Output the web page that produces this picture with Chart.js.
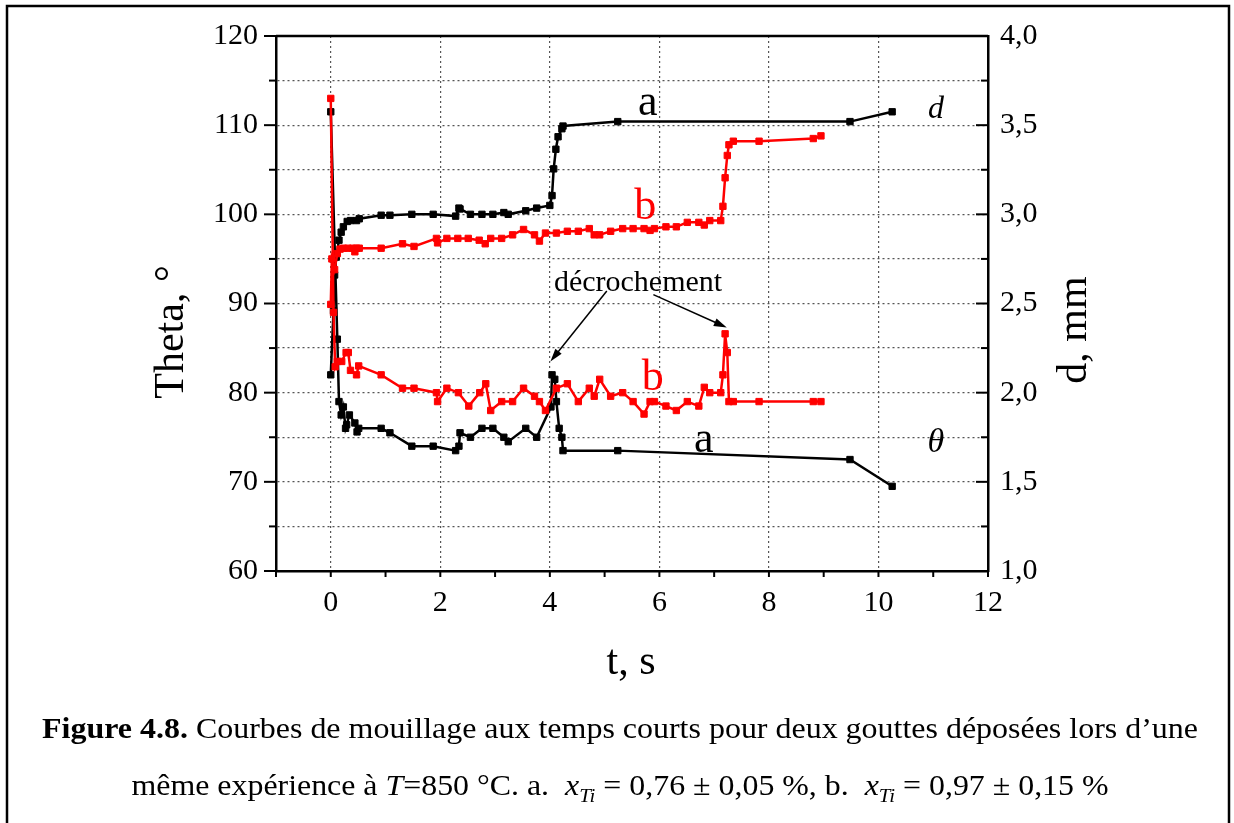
<!DOCTYPE html>
<html>
<head>
<meta charset="utf-8">
<script src="https://cdn.jsdelivr.net/npm/chart.js@4.4.1/dist/chart.umd.min.js"></script>
<style>
  html, body { margin: 0; padding: 0; background: #fff; }
  canvas { display: block; }
</style>
</head>
<body>
<canvas id="wetChart" width="1234" height="823"></canvas>
<script>
// values: time in s, theta in degrees, d in mm
const aThetaTime = [0, 0.12, 0.15, 0.19, 0.23, 0.27, 0.29, 0.34, 0.44, 0.48, 0.51, 0.92, 1.08, 1.48, 1.87, 2.28, 2.34, 2.36, 2.55, 2.76, 2.96, 3.16, 3.24, 3.56, 3.76, 4.02, 4.04, 4.09, 4.12, 4.17, 4.22, 4.24, 5.24, 9.48, 10.25];
const aTheta = [111.5, 86, 79, 77.5, 78.4, 76, 76.4, 77.5, 76.6, 75.6, 76, 76, 75.5, 74, 74, 73.5, 74, 75.5, 75, 76, 76, 75, 74.5, 76, 75, 78.4, 82, 81.5, 79, 76, 75, 73.5, 73.5, 72.5, 69.5];

const aDiamTime = [0, 0.05, 0.07, 0.10, 0.15, 0.19, 0.23, 0.30, 0.36, 0.47, 0.52, 0.92, 1.08, 1.48, 1.87, 2.28, 2.34, 2.36, 2.55, 2.76, 2.96, 3.16, 3.24, 3.56, 3.76, 4.00, 4.04, 4.07, 4.11, 4.15, 4.22, 4.24, 5.24, 9.48, 10.25];
const aDiam = [2.10, 2.46, 2.66, 2.76, 2.855, 2.90, 2.93, 2.96, 2.965, 2.965, 2.975, 2.995, 2.995, 3.0, 3.0, 2.99, 3.035, 3.03, 3.0, 3.0, 3.0, 3.01, 3.0, 3.02, 3.035, 3.05, 3.105, 3.255, 3.365, 3.435, 3.48, 3.495, 3.52, 3.52, 3.575];

const bThetaTime = [0, 0.05, 0.08, 0.12, 0.20, 0.28, 0.32, 0.36, 0.47, 0.51, 0.92, 1.31, 1.52, 1.93, 1.95, 2.12, 2.33, 2.52, 2.72, 2.83, 2.92, 3.12, 3.32, 3.52, 3.72, 3.81, 3.92, 4.12, 4.32, 4.52, 4.72, 4.81, 4.91, 5.11, 5.33, 5.52, 5.72, 5.83, 5.91, 6.12, 6.31, 6.51, 6.72, 6.82, 6.92, 7.12, 7.16, 7.20, 7.24, 7.27, 7.35, 7.82, 8.81, 8.95];
const bTheta = [113, 89, 82.9, 83.5, 83.5, 84.5, 84.5, 82.5, 82, 83, 82, 80.5, 80.5, 80, 79, 80.5, 80, 78.5, 80, 81, 78, 79, 79, 80.5, 79.6, 79, 78, 80.5, 81, 79, 80.5, 79.6, 81.5, 79.6, 80, 79, 77.6, 79, 79, 78.5, 78, 79, 78.5, 80.6, 80, 80, 82, 86.6, 84.5, 79, 79, 79, 79, 79];

const bDiamTime = [0, 0.02, 0.07, 0.12, 0.17, 0.23, 0.31, 0.40, 0.44, 0.47, 0.52, 0.92, 1.31, 1.52, 1.93, 1.95, 2.12, 2.32, 2.51, 2.71, 2.82, 2.92, 3.12, 3.32, 3.52, 3.72, 3.81, 3.92, 4.12, 4.32, 4.52, 4.72, 4.81, 4.91, 5.11, 5.33, 5.52, 5.72, 5.83, 5.91, 6.12, 6.31, 6.51, 6.72, 6.82, 6.92, 7.12, 7.16, 7.20, 7.24, 7.27, 7.35, 7.82, 8.81, 8.95];
const bDiam = [2.495, 2.75, 2.69, 2.78, 2.805, 2.81, 2.81, 2.81, 2.79, 2.81, 2.81, 2.81, 2.835, 2.82, 2.865, 2.84, 2.865, 2.865, 2.865, 2.855, 2.835, 2.865, 2.865, 2.885, 2.915, 2.885, 2.85, 2.895, 2.895, 2.905, 2.905, 2.92, 2.885, 2.885, 2.905, 2.92, 2.92, 2.92, 2.91, 2.92, 2.93, 2.93, 2.955, 2.955, 2.94, 2.965, 2.965, 3.045, 3.205, 3.33, 3.39, 3.41, 3.41, 3.425, 3.44];

const SERIF = "'Liberation Serif', 'Times New Roman', serif";
const RED = '#ff0000';

// text placed on the plot, in data units (t, theta)
const notes = [
  { text: 'a', t: 5.79, v: 111.1, color: '#000', font: '44px ' + SERIF },
  { text: 'b', t: 5.74, v: 99.5, color: RED, font: '44px ' + SERIF },
  { text: 'd', t: 11.05, v: 110.8, color: '#000', font: 'italic 32px ' + SERIF },
  { text: 'décrochement', t: 5.61, v: 91.4, color: '#000', font: '30px ' + SERIF },
  { text: 'b', t: 5.88, v: 80.3, color: RED, font: '44px ' + SERIF },
  { text: 'a', t: 6.81, v: 73.4, color: '#000', font: '44px ' + SERIF },
  { text: 'θ', t: 11.05, v: 73.3, color: '#000', font: 'italic 34px ' + SERIF }
];
const arrows = [
  { t0: 5.04, v0: 91.4, t1: 4.01, v1: 83.5 },
  { t0: 5.89, v0: 91.0, t1: 7.23, v1: 87.3 }
];

const pts = (xs, ys) => xs.map((x, i) => ({ x: x, y: ys[i] }));

function series(data, color, axis) {
  return {
    data: data,
    yAxisID: axis,
    borderColor: color,
    backgroundColor: color,
    borderWidth: 2.5,
    pointStyle: 'rect',
    pointRadius: 4.5,
    pointBorderWidth: 1,
    pointBorderColor: color,
    pointBackgroundColor: color,
    tension: 0,
    fill: false
  };
}

const frame = {
  id: 'frame',
  afterDraw(chart) {
    const { ctx, chartArea: a, scales } = chart;
    const line = (x1, y1, x2, y2) => { ctx.beginPath(); ctx.moveTo(x1, y1); ctx.lineTo(x2, y2); ctx.stroke(); };
    ctx.save();
    ctx.strokeStyle = '#000';
    ctx.lineWidth = 2;
    scales.x.ticks.forEach(tk => {
      const px = scales.x.getPixelForValue(tk.value);
      line(px, a.bottom, px, a.bottom + 6);
    });
    scales.y.ticks.forEach(tk => {
      const py = scales.y.getPixelForValue(tk.value);
      const len = tk.value % 10 === 0 ? 12 : 7;
      line(a.left - len, py, a.left, py);
    });
    scales.y2.ticks.forEach(tk => {
      const py = scales.y2.getPixelForValue(tk.value);
      const len = Math.abs(tk.value * 2 - Math.round(tk.value * 2)) < 1e-6 ? 12 : 7;
      line(a.right - len, py, a.right, py);
    });
    ctx.lineWidth = 2.5;
    line(a.left, a.top, a.right, a.top);

    // outer figure box
    ctx.lineWidth = 2.5;
    ctx.strokeRect(7, 6, 1222, 830);

    // axis titles
    ctx.fillStyle = '#000';
    ctx.font = '42px ' + SERIF;
    ctx.textAlign = 'center';
    ctx.textBaseline = 'middle';
    ctx.fillText('t, s', 631, 663);
    ctx.save();
    ctx.translate(172, 332);
    ctx.rotate(-Math.PI / 2);
    ctx.fillText('Theta, °', 0, 0);
    ctx.restore();
    ctx.save();
    ctx.translate(1075, 330);
    ctx.rotate(-Math.PI / 2);
    ctx.fillText('d, mm', 0, 0);
    ctx.restore();

    // caption
    const size = 29;
    const lines = [
      { y: 738, width: 1156, runs: [
        { s: 'Figure 4.8.', f: 'bold' },
        { s: ' Courbes de mouillage aux temps courts pour deux gouttes déposées lors d’une' }
      ] },
      { y: 795, width: 977, runs: [
        { s: 'même expérience à ' }, { s: 'T', f: 'italic' }, { s: '=850 °C. a.  ' },
        { s: 'x', f: 'italic' }, { s: 'Ti', f: 'italic', sub: true }, { s: ' = 0,76 ± 0,05 %, b.  ' },
        { s: 'x', f: 'italic' }, { s: 'Ti', f: 'italic', sub: true }, { s: ' = 0,97 ± 0,15 %' }
      ] }
    ];
    ctx.textAlign = 'left';
    ctx.textBaseline = 'alphabetic';
    lines.forEach(ln => {
      const fontOf = r => (r.f ? r.f + ' ' : '') + (r.sub ? Math.round(size * 0.65) : size) + 'px ' + SERIF;
      let total = 0;
      ln.runs.forEach(r => { ctx.font = fontOf(r); r.w = ctx.measureText(r.s).width; total += r.w; });
      const sx = ln.width / total;
      ctx.save();
      ctx.translate(620 - ln.width / 2, ln.y);
      ctx.scale(sx, 1);
      let x = 0;
      ln.runs.forEach(r => {
        ctx.font = fontOf(r);
        ctx.fillText(r.s, x, r.sub ? 7 : 0);
        x += r.w;
      });
      ctx.restore();
    });
    ctx.restore();
  },
  afterDatasetsDraw(chart) {
    const { ctx, scales } = chart;
    const X = t => scales.x.getPixelForValue(t);
    const Y = v => scales.y.getPixelForValue(v);
    ctx.save();
    ctx.textAlign = 'center';
    ctx.textBaseline = 'alphabetic';
    notes.forEach(n => {
      ctx.font = n.font;
      ctx.fillStyle = n.color;
      ctx.fillText(n.text, X(n.t), Y(n.v));
    });
    ctx.strokeStyle = '#000';
    ctx.fillStyle = '#000';
    ctx.lineWidth = 1.5;
    arrows.forEach(ar => {
      const x0 = X(ar.t0), y0 = Y(ar.v0), x1 = X(ar.t1), y1 = Y(ar.v1);
      const ang = Math.atan2(y1 - y0, x1 - x0);
      ctx.beginPath();
      ctx.moveTo(x0, y0);
      ctx.lineTo(x1 - 8 * Math.cos(ang), y1 - 8 * Math.sin(ang));
      ctx.stroke();
      ctx.beginPath();
      ctx.moveTo(x1, y1);
      ctx.lineTo(x1 - 13 * Math.cos(ang) + 4 * Math.sin(ang), y1 - 13 * Math.sin(ang) - 4 * Math.cos(ang));
      ctx.lineTo(x1 - 13 * Math.cos(ang) - 4 * Math.sin(ang), y1 - 13 * Math.sin(ang) + 4 * Math.cos(ang));
      ctx.closePath();
      ctx.fill();
    });
    ctx.restore();
  }
};

const tickFont = { family: SERIF, size: 30 };
const dotted = [2, 3];

new Chart(document.getElementById('wetChart').getContext('2d'), {
  type: 'line',
  data: {
    datasets: [
      series(pts(bThetaTime, bTheta), RED, 'y'),
      series(pts(bDiamTime, bDiam), RED, 'y2'),
      series(pts(aThetaTime, aTheta), '#000', 'y'),
      series(pts(aDiamTime, aDiam), '#000', 'y2')
    ]
  },
  options: {
    responsive: false,
    animation: false,
    layout: { padding: { top: 33, left: 0, right: 0, bottom: 0 } },
    plugins: { legend: { display: false }, tooltip: { enabled: false } },
    scales: {
      x: {
        type: 'linear',
        min: -1,
        max: 12,
        afterFit: s => { s.height = 252; },
        ticks: {
          stepSize: 1,
          autoSkip: false,
          maxRotation: 0,
          padding: 14,
          color: '#000',
          font: tickFont,
          callback: v => (v % 2 === 0 ? String(v) : '')
        },
        grid: {
          drawTicks: false,
          lineWidth: 1.2,
          color: c => (c.tick && c.tick.value % 2 === 0 && c.tick.value > -1 && c.tick.value < 12 ? '#555' : 'rgba(0,0,0,0)')
        },
        border: { display: true, color: '#000', width: 2.5, dash: dotted }
      },
      y: {
        position: 'left',
        min: 60,
        max: 120,
        afterFit: s => { s.width = 276; },
        ticks: {
          stepSize: 5,
          padding: 18,
          color: '#000',
          font: tickFont,
          callback: v => (v % 10 === 0 ? String(v) : '')
        },
        grid: {
          drawTicks: false,
          lineWidth: 1.2,
          color: c => (c.tick && c.tick.value > 60 && c.tick.value < 120 ? '#555' : 'rgba(0,0,0,0)')
        },
        border: { display: true, color: '#000', width: 2.5, dash: dotted }
      },
      y2: {
        position: 'right',
        min: 1,
        max: 4,
        afterFit: s => { s.width = 246; },
        ticks: {
          stepSize: 0.25,
          padding: 12,
          color: '#000',
          font: tickFont,
          callback: v => (Math.abs(v * 2 - Math.round(v * 2)) < 1e-6 ? v.toFixed(1).replace('.', ',') : '')
        },
        grid: { drawTicks: false, drawOnChartArea: false },
        border: { display: true, color: '#000', width: 2.5 }
      }
    }
  },
  plugins: [frame]
});
</script>
</body>
</html>
